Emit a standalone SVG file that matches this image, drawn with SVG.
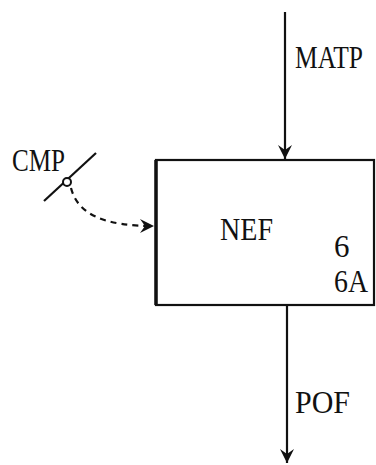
<svg xmlns="http://www.w3.org/2000/svg" width="376" height="465" viewBox="0 0 376 465">
<style>
text{font-family:"Liberation Serif","Times New Roman",serif;font-size:31px;fill:#111}
.ln{stroke:#111;stroke-width:2.2;fill:none}
</style>
<defs>
<marker id="ah" viewBox="0 0 14 16" refX="14" refY="8" markerWidth="14" markerHeight="16" markerUnits="userSpaceOnUse" orient="auto">
<path d="M0,1 L14,8 L0,15 L5,8 Z" fill="#111"/>
</marker>
</defs>
<rect width="376" height="465" fill="#fff"/>
<g id="NEF">
<rect x="156" y="160" width="218" height="145" fill="none" stroke="#111" stroke-width="2.2"/>
<path d="M156,160 V305" stroke="#111" stroke-width="3.5"/>
<text x="220" y="240" textLength="53" lengthAdjust="spacingAndGlyphs">NEF</text>
<text x="334" y="257">6</text>
<text x="334" y="292" textLength="34" lengthAdjust="spacingAndGlyphs">6A</text>
</g>
<g id="CMP">
<text x="12" y="171" textLength="53" lengthAdjust="spacingAndGlyphs">CMP</text>
<line x1="44" y1="201" x2="96" y2="153" class="ln"/>
<circle cx="67" cy="182" r="4" fill="#fff" stroke="#111" stroke-width="2"/>
</g>
<g id="connectors">
<path d="M285,12 V159" class="ln" marker-end="url(#ah)"/>
<text x="295" y="68" textLength="68" lengthAdjust="spacingAndGlyphs">MATP</text>
<path d="M287,305 V463" class="ln" marker-end="url(#ah)"/>
<text x="295" y="413" textLength="55" lengthAdjust="spacingAndGlyphs">POF</text>
<path d="M71,188 C78,215 105,226 154,226" class="ln" stroke-dasharray="6,5" marker-end="url(#ah)"/>
</g>
</svg>
